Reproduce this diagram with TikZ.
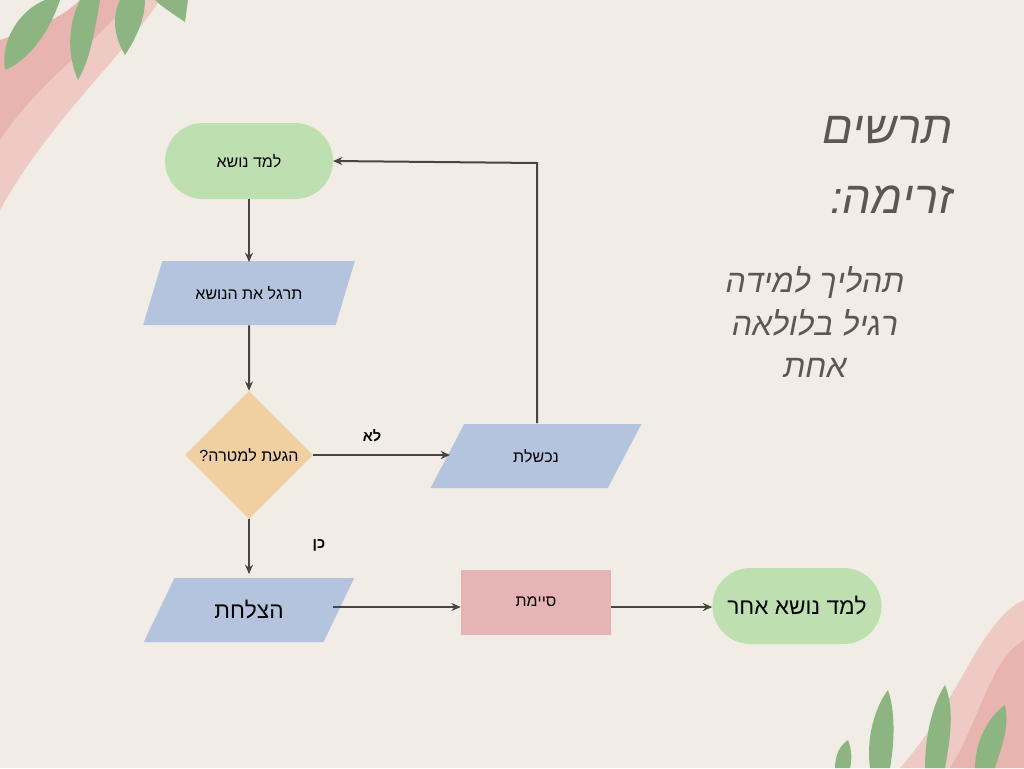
\documentclass[tikz,border=0pt]{standalone}
\usepackage{fontspec}
\setmainfont{Liberation Sans}
\TeXXeTstate=1
\usetikzlibrary{shapes.geometric,arrows.meta}
\definecolor{bg}{HTML}{F1ECE6}
\definecolor{gr}{HTML}{BEE0B0}
\definecolor{bl}{HTML}{B4C3DE}
\definecolor{or}{HTML}{F0CFA0}
\definecolor{pk}{HTML}{E6B4B4}
\definecolor{ln}{HTML}{4A4440}
\definecolor{leaf}{HTML}{8DB582}
\definecolor{pink1}{HTML}{E8B4B0}
\definecolor{pink2}{HTML}{EFCAC4}
\tikzset{
 rnd/.style={rectangle,rounded corners=38*0.75pt,fill=gr,minimum height=76*0.75pt,font=\fontsize{12}{14}\selectfont},
 para/.style={trapezium,trapezium left angle=60,trapezium right angle=120,trapezium stretches=true,fill=bl,minimum height=64*0.75pt,minimum width=212*0.75pt,font=\fontsize{12}{14}\selectfont},
 arr/.style={draw=ln,line width=1.5pt,-{Stealth[length=7pt,width=6pt]}},
 lab/.style={font=\bfseries\fontsize{11}{13}\selectfont}
}
\begin{document}
\begin{tikzpicture}[x=0.75pt,y=-0.75pt]
\fill[bg] (0,0) rectangle (1024,768);
\useasboundingbox (0,0) rectangle (1024,768);
% decorations top-left
\fill[pink2] (0,60) .. controls (40,40) and (80,30) .. (110,0) -- (160,0) .. controls (120,60) and (50,120) .. (0,210) -- cycle;
\fill[pink1] (0,40) .. controls (30,30) and (60,20) .. (80,0) -- (130,0) .. controls (90,50) and (40,80) .. (0,140) -- cycle;
\fill[leaf] (5,70) .. controls (0,40) and (20,10) .. (45,0) -- (60,0) .. controls (50,30) and (30,60) .. (5,70) -- cycle;
\fill[leaf] (78,80) .. controls (65,50) and (70,20) .. (80,0) -- (100,0) .. controls (95,30) and (90,60) .. (78,80) -- cycle;
\fill[leaf] (125,55) .. controls (110,30) and (115,10) .. (120,0) -- (145,0) .. controls (145,20) and (135,40) .. (125,55) -- cycle;
\fill[leaf] (185,22) .. controls (170,12) and (160,5) .. (155,0) -- (188,0) -- cycle;
% decorations bottom-right
\fill[pink2] (1024,600) .. controls (980,620) and (960,700) .. (900,768) -- (1024,768) -- cycle;
\fill[pink1] (1024,640) .. controls (990,660) and (980,720) .. (950,768) -- (1024,768) -- cycle;
\fill[leaf] (870,768) .. controls (865,730) and (880,700) .. (888,690) .. controls (895,710) and (895,740) .. (890,768) -- cycle;
\fill[leaf] (925,768) .. controls (925,730) and (935,700) .. (945,685) .. controls (955,710) and (950,740) .. (945,768) -- cycle;
\fill[leaf] (975,768) .. controls (975,740) and (990,715) .. (1005,705) .. controls (1010,730) and (1000,750) .. (995,768) -- cycle;
\fill[leaf] (835,768) .. controls (835,755) and (840,745) .. (848,740) .. controls (852,750) and (852,760) .. (850,768) -- cycle;
% nodes
\node[rnd,minimum width=168*0.75pt] (a) at (249,161) {\beginR למד נושא\endR};
\node[para] (b) at (249,293) {\beginR תרגל את הנושא\endR};
\node[diamond,fill=or,minimum width=128*0.75pt,minimum height=128*0.75pt,inner sep=0pt] (c) at (249,455) {};
\node[font=\fontsize{12}{14}\selectfont] at (249,455) {\beginR הגעת למטרה?\endR};
\node[para] (d) at (536,456) {\beginR נכשלת\endR};
\node[para,font=\fontsize{17}{20}\selectfont] (e) at (249,610) {\beginR הצלחת\endR};
\node[rectangle,fill=pk,minimum width=150*0.75pt,minimum height=65*0.75pt,font=\fontsize{12}{14}\selectfont] (f) at (536,602) {\beginR סיימת\endR};
\node[rnd,minimum width=169*0.75pt,font=\fontsize{17}{20}\selectfont] (g) at (797,606) {\beginR למד נושא אחר\endR};
% arrows
\draw[arr] (a.south) -- (249,262);
\draw[arr] (b.south) -- (c.north);
\draw[arr] (c.east) -- (450,455);
\node[lab] (no) at (372,436) {\beginR לא\endR};
\coordinate (k1) at (537,163);
\draw[arr] (537,423) -- (k1) -- (333,161);
\draw[arr] (c.south) -- (249,574);
\node[lab] (yes) at (319,545) {\beginR כן\endR};
\draw[arr] (333,607) -- (f.west |- 0,607);
\draw[arr] (f.east |- 0,607) -- (g.west |- 0,607);
% title
\node[font=\itshape\fontsize{34}{40}\selectfont,text=ln!90,anchor=east] (t1) at (958,130) {\beginR תרשים\endR};
\node[font=\itshape\fontsize{34}{40}\selectfont,text=ln!90,anchor=east] (t2) at (958,200) {\beginR זרימה:\endR};
\node[font=\itshape\fontsize{24}{32}\selectfont,text=ln!90,align=center] (t3) at (815,322) {\beginR תהליך למידה\endR\\\beginR רגיל בלולאה\endR\\\beginR אחת\endR};
\end{tikzpicture}
\end{document}
